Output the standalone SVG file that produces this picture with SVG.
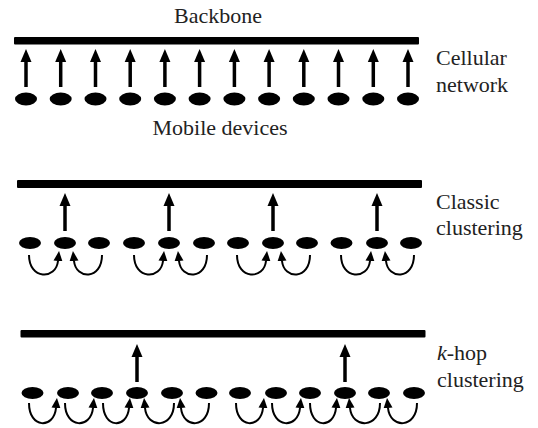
<svg xmlns="http://www.w3.org/2000/svg" width="538" height="428" viewBox="0 0 538 428">
  <style>
    .bar { fill: #000; }
    .dev { fill: #000; }
    .up { stroke: #000; stroke-width: 3.5; fill: none; marker-end: url(#bigHead); }
    .hop { stroke: #000; stroke-width: 2; fill: none; marker-end: url(#smallHead); }
    .lbl { font-family: 'Liberation Serif', 'Times New Roman', Times, 'Nimbus Roman', 'DejaVu Serif', serif; font-size: 22px; fill: #222; }
  </style>
  <defs>
    <marker id="bigHead" markerUnits="userSpaceOnUse" markerWidth="16" markerHeight="14" viewBox="0 -7 16 14" refX="0" refY="0" orient="auto">
      <path d="M0,-5.5 L13,0 L0,5.5 z" fill="#000"/>
    </marker>
    <marker id="smallHead" markerUnits="userSpaceOnUse" markerWidth="12" markerHeight="12" viewBox="0 -6 12 12" refX="0" refY="0" orient="auto">
      <path d="M0,-4.5 L10,0 L0,4.5 z" fill="#000"/>
    </marker>
  </defs>
  <rect width="538" height="428" fill="#fff"/>

  <!-- Row 1: cellular network -->
  <g id="backbone1"><rect class="bar" x="14" y="37" width="405" height="7.5" rx="1"/></g>
  <g id="lbl-backbone"><text class="lbl" x="218" y="23" text-anchor="middle">Backbone</text></g>
  <g id="lbl-mobile"><text class="lbl" x="220" y="135" text-anchor="middle">Mobile devices</text></g>
  <g id="lbl-cellular"><text class="lbl" x="436" y="65">Cellular</text><text class="lbl" x="436" y="92">network</text></g>
  <g id="r1-d1"><ellipse class="dev" cx="26" cy="99" rx="11" ry="6.5"/></g>
  <g id="r1-d2"><ellipse class="dev" cx="60.7" cy="99" rx="11" ry="6.5"/></g>
  <g id="r1-d3"><ellipse class="dev" cx="95.5" cy="99" rx="11" ry="6.5"/></g>
  <g id="r1-d4"><ellipse class="dev" cx="130.2" cy="99" rx="11" ry="6.5"/></g>
  <g id="r1-d5"><ellipse class="dev" cx="164.9" cy="99" rx="11" ry="6.5"/></g>
  <g id="r1-d6"><ellipse class="dev" cx="199.6" cy="99" rx="11" ry="6.5"/></g>
  <g id="r1-d7"><ellipse class="dev" cx="234.4" cy="99" rx="11" ry="6.5"/></g>
  <g id="r1-d8"><ellipse class="dev" cx="269.1" cy="99" rx="11" ry="6.5"/></g>
  <g id="r1-d9"><ellipse class="dev" cx="303.8" cy="99" rx="11" ry="6.5"/></g>
  <g id="r1-d10"><ellipse class="dev" cx="338.5" cy="99" rx="11" ry="6.5"/></g>
  <g id="r1-d11"><ellipse class="dev" cx="373.3" cy="99" rx="11" ry="6.5"/></g>
  <g id="r1-d12"><ellipse class="dev" cx="408" cy="99" rx="11" ry="6.5"/></g>

  <!-- Row 2: classic clustering -->
  <g id="backbone2"><rect class="bar" x="17" y="180" width="405" height="8" rx="1"/></g>
  <g id="lbl-classic"><text class="lbl" x="436" y="209">Classic</text><text class="lbl" x="436" y="235">clustering</text></g>
  <g id="r2-d1"><ellipse class="dev" cx="30" cy="243" rx="11" ry="6"/></g>
  <g id="r2-d2"><ellipse class="dev" cx="65" cy="243" rx="11" ry="6"/></g>
  <g id="r2-d3"><ellipse class="dev" cx="99" cy="243" rx="11" ry="6"/></g>
  <g id="r2-d4"><ellipse class="dev" cx="134" cy="243" rx="11" ry="6"/></g>
  <g id="r2-d5"><ellipse class="dev" cx="169" cy="243" rx="11" ry="6"/></g>
  <g id="r2-d6"><ellipse class="dev" cx="204" cy="243" rx="11" ry="6"/></g>
  <g id="r2-d7"><ellipse class="dev" cx="238" cy="243" rx="11" ry="6"/></g>
  <g id="r2-d8"><ellipse class="dev" cx="273" cy="243" rx="11" ry="6"/></g>
  <g id="r2-d9"><ellipse class="dev" cx="307" cy="243" rx="11" ry="6"/></g>
  <g id="r2-d10"><ellipse class="dev" cx="341.5" cy="243" rx="11" ry="6"/></g>
  <g id="r2-d11"><ellipse class="dev" cx="377" cy="243" rx="11" ry="6"/></g>
  <g id="r2-d12"><ellipse class="dev" cx="411" cy="243" rx="11" ry="6"/></g>

  <!-- Row 3: k-hop clustering -->
  <g id="backbone3"><rect class="bar" x="20.5" y="330" width="405" height="7.5" rx="1"/></g>
  <g id="lbl-khop"><text class="lbl" x="437" y="360"><tspan font-style="italic">k</tspan>-hop</text><text class="lbl" x="437" y="387">clustering</text></g>
  <g id="r3-d1"><ellipse class="dev" cx="32.5" cy="393" rx="11" ry="6"/></g>
  <g id="r3-d2"><ellipse class="dev" cx="68" cy="393" rx="11" ry="6"/></g>
  <g id="r3-d3"><ellipse class="dev" cx="102" cy="393" rx="11" ry="6"/></g>
  <g id="r3-d4"><ellipse class="dev" cx="137" cy="393" rx="11" ry="6"/></g>
  <g id="r3-d5"><ellipse class="dev" cx="172" cy="393" rx="11" ry="6"/></g>
  <g id="r3-d6"><ellipse class="dev" cx="206.5" cy="393" rx="11" ry="6"/></g>
  <g id="r3-d7"><ellipse class="dev" cx="240" cy="393" rx="11" ry="6"/></g>
  <g id="r3-d8"><ellipse class="dev" cx="276" cy="393" rx="11" ry="6"/></g>
  <g id="r3-d9"><ellipse class="dev" cx="310" cy="393" rx="11" ry="6"/></g>
  <g id="r3-d10"><ellipse class="dev" cx="345" cy="393" rx="11" ry="6"/></g>
  <g id="r3-d11"><ellipse class="dev" cx="379" cy="393" rx="11" ry="6"/></g>
  <g id="r3-d12"><ellipse class="dev" cx="414" cy="393" rx="11" ry="6"/></g>

  <g id="connectors">
    <!-- direct uplinks, row 1 -->
    <path class="up" d="M26,87 V62"/>
    <path class="up" d="M60.7,87 V62"/>
    <path class="up" d="M95.5,87 V62"/>
    <path class="up" d="M130.2,87 V62"/>
    <path class="up" d="M164.9,87 V62"/>
    <path class="up" d="M199.6,87 V62"/>
    <path class="up" d="M234.4,87 V62"/>
    <path class="up" d="M269.1,87 V62"/>
    <path class="up" d="M303.8,87 V62"/>
    <path class="up" d="M338.5,87 V62"/>
    <path class="up" d="M373.3,87 V62"/>
    <path class="up" d="M408,87 V62"/>

    <!-- cluster-head uplinks, row 2 -->
    <path class="up" d="M65,231 V206"/>
    <path class="up" d="M169,231 V206"/>
    <path class="up" d="M273,231 V206"/>
    <path class="up" d="M377,231 V206"/>

    <!-- member-to-head hops, row 2 -->
    <path class="hop" d="M29,255 C29,280 56,280 58,261"/>
    <path class="hop" d="M102,255 C102,280 76,280 74,261"/>
    <path class="hop" d="M134,255 C134,280 161,280 163,261"/>
    <path class="hop" d="M207,255 C207,280 181,280 179,261"/>
    <path class="hop" d="M237,255 C237,280 264,280 266,261"/>
    <path class="hop" d="M310,255 C310,280 284,280 282,261"/>
    <path class="hop" d="M341,255 C341,280 368,280 370,261"/>
    <path class="hop" d="M414,255 C414,280 388,280 386,261"/>

    <!-- cluster-head uplinks, row 3 -->
    <path class="up" d="M137,382 V357"/>
    <path class="up" d="M345,382 V357"/>

    <!-- multi-hop chains, row 3 -->
    <path class="hop" d="M29,403 C29,429 54,429 56,408"/>
    <path class="hop" d="M65,403 C65,429 91,429 93,408"/>
    <path class="hop" d="M103,403 C103,429 127,429 129,408"/>
    <path class="hop" d="M174,403 C174,429 147,429 145,408"/>
    <path class="hop" d="M209,403 C209,429 183,429 181,408"/>
    <path class="hop" d="M236,403 C236,429 261,429 263,408"/>
    <path class="hop" d="M272,403 C272,429 298,429 300,408"/>
    <path class="hop" d="M310,403 C310,429 334,429 336,408"/>
    <path class="hop" d="M380,403 C380,429 352,429 350,408"/>
    <path class="hop" d="M417,403 C417,429 390,429 388,408"/>
  </g>
</svg>
